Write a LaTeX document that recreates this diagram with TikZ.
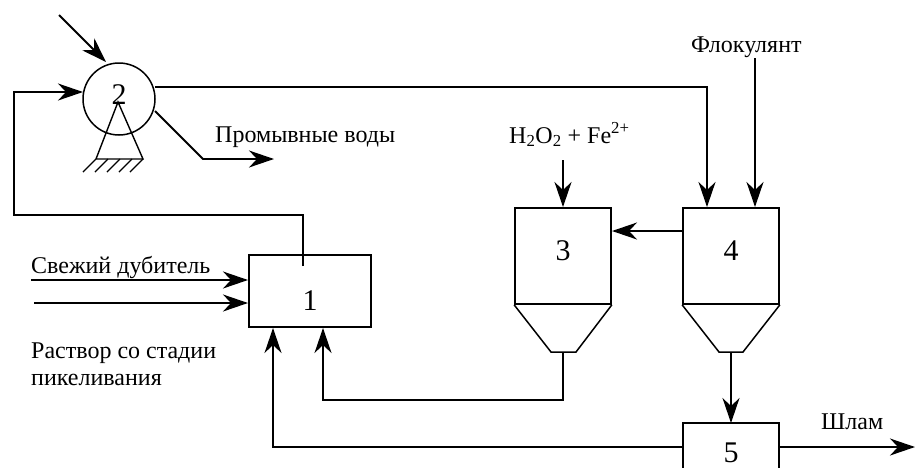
\documentclass[tikz,border=0pt]{standalone}
\usepackage{fontspec}
\setmainfont{Liberation Serif}
\usetikzlibrary{arrows.meta}
\tikzset{
  flow/.style={line width=1.8pt,-{Stealth[length=25pt,width=17pt,inset=8pt]}},
  plain/.style={line width=1.5pt},
  numfont/.style={inner sep=0pt,font=\fontsize{30}{34}\selectfont},
  unitbox/.style={draw,line width=1.7pt,minimum width=96pt,minimum height=96pt,inner sep=0pt},
  lab/.style={inner sep=0pt,font=\fontsize{24}{28}\selectfont,anchor=base west,align=left}
}
\begin{document}
\begin{tikzpicture}[x=1pt,y=-1pt]
\useasboundingbox (0,0) rectangle (915,467);
\begin{scope}
\clip (0,0) rectangle (915,467);
% units
\node[draw,line width=1.7pt,minimum width=122pt,minimum height=72pt,inner sep=0pt] (u1) at (310,291) {};
\node[unitbox] (u3) at (563,256) {};
\node[unitbox] (u4) at (731,256) {};
\node[draw,line width=1.7pt,minimum width=96pt,minimum height=72pt,inner sep=0pt] (u5) at (731,459) {};
\node[draw,circle,line width=1.5pt,minimum size=72pt,inner sep=0pt] (u2) at (119,99) {};
\node[numfont] (n1) at (310,301) {1};
\node[numfont] (n2) at (119,95) {2};
\node[numfont] (n3) at (563,251) {3};
\node[numfont] (n4) at (731,251) {4};
\node[numfont] (n5) at (731,453) {5};
% hoppers
\coordinate (h3a) at (551,352); \coordinate (h3b) at (576,352); \coordinate (h3c) at (563,352);
\coordinate (h4a) at (719,352); \coordinate (h4b) at (743,352); \coordinate (h4c) at (731,352);
\draw[plain] (u3.south west) -- (h3a) -- (h3b) -- (u3.south east);
\draw[plain] (u4.south west) -- (h4a) -- (h4b) -- (u4.south east);
% support
\coordinate (apex) at (118,102); \coordinate (bl) at (96,159); \coordinate (br) at (143,159);
\draw[line width=1.4pt] (bl) -- (apex) -- (br) -- cycle;
\foreach \x in {96,108,120,132,143}
  \draw[line width=1.4pt] (\x,159) -- (\x-13,172);
% junction points
\coordinate (a0) at (59,15);
\coordinate (a1) at (106,62);
\coordinate (b0) at (303,266);
\coordinate (b1) at (303,215);
\coordinate (b2) at (14,215);
\coordinate (b3) at (14,92);
\coordinate (b4) at (83,92);
\coordinate (c0) at (155,87);
\coordinate (c1) at (707,87);
\coordinate (c2) at (707,207);
\coordinate (d0) at (155,111);
\coordinate (d1) at (203,159);
\coordinate (d2) at (274,159);
\coordinate (e0) at (755,58);
\coordinate (e1) at (755,207);
\coordinate (f0) at (563,160);
\coordinate (f1) at (563,207);
\coordinate (g0) at (683,231);
\coordinate (g1) at (612,231);
\coordinate (h0) at (563,400);
\coordinate (h1) at (323,400);
\coordinate (h2) at (323,328);
\coordinate (i0) at (683,447);
\coordinate (i1) at (273,447);
\coordinate (i2) at (273,328);
\coordinate (j0) at (731,423);
\coordinate (k0) at (779,447);
\coordinate (k1) at (915,447);
\coordinate (l0) at (31,280);
\coordinate (l1) at (248,280);
\coordinate (m0) at (34,303);
\coordinate (m1) at (248,303);
% connectors
\draw[flow] (a0) -- (a1);
\draw[flow] (b0) -- (b1) -- (b2) -- (b3) -- (b4);
\draw[flow] (c0) -- (c1) -- (c2);
\draw[flow] (d0) -- (d1) -- (d2);
\draw[flow] (e0) -- (e1);
\draw[flow] (f0) -- (f1);
\draw[flow] (g0) -- (g1);
\draw[flow] (h3c) -- (h0) -- (h1) -- (h2);
\draw[flow] (i0) -- (i1) -- (i2);
\draw[flow] (h4c) -- (j0);
\draw[flow] (k0) -- (k1);
\draw[flow] (l0) -- (l1);
\draw[flow] (m0) -- (m1);
% labels
\node[lab] (t1) at (215,142) {Промывные воды};
\node[lab] (t2) at (691,52) {Флокулянт};
\node[lab] (t3) at (509,143) {H\textsubscript{2}O\textsubscript{2} + Fe\textsuperscript{2+}};
\node[lab] (t4) at (31,273) {Свежий дубитель};
\node[lab] (t5) at (31,358) {Раствор со стадии};
\node[lab] (t6) at (31,385) {пикеливания};
\node[lab] (t7) at (821,429) {Шлам};
\end{scope}
\end{tikzpicture}
\end{document}
